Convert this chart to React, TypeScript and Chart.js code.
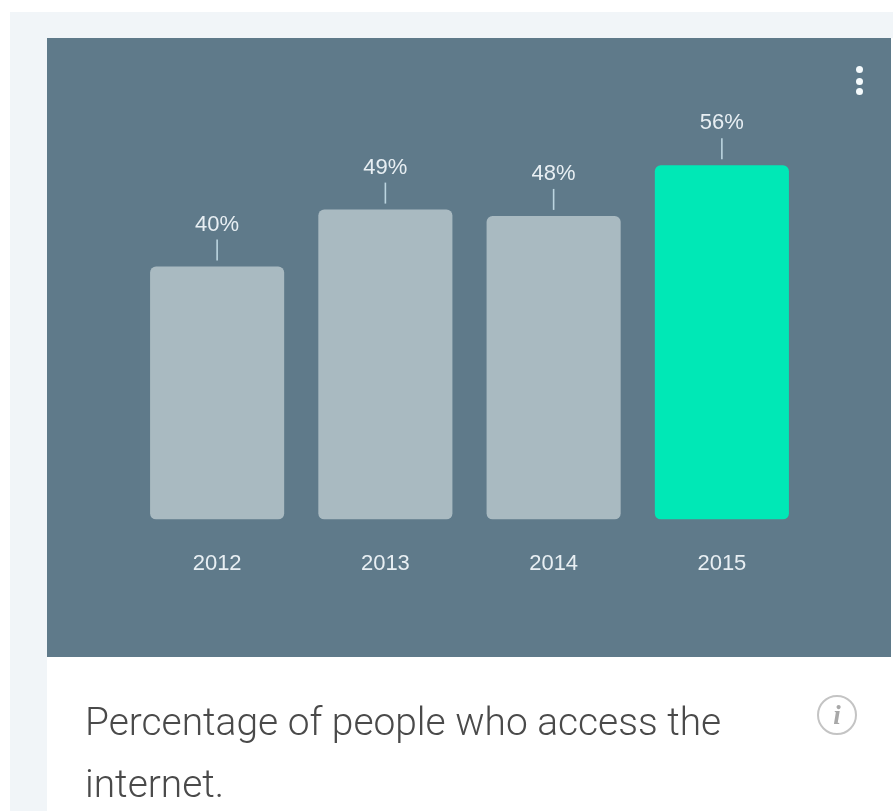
import { useEffect, useRef } from "react";
import { Chart, registerables, type Plugin } from "chart.js";

Chart.register(...registerables);

const years = ["2012", "2013", "2014", "2015"];
const shares = [40, 49, 48, 56];
const barColors = ["#a9bac1", "#a9bac1", "#a9bac1", "#00e8b6"];
const caption = "Percentage of people who access the internet.";

const W = 893;
const H = 811;
const PANEL = "#5f7a8a";

// Percentage above each bar, joined to it by a short stem.
const valueLabels: Plugin<"bar"> = {
  id: "valueLabels",
  afterDatasetsDraw(chart) {
    const { ctx } = chart;
    const bars = chart.getDatasetMeta(0).data;
    ctx.save();
    bars.forEach((bar, i) => {
      ctx.strokeStyle = "#bcd5e0";
      ctx.lineWidth = 1.6;
      ctx.beginPath();
      ctx.moveTo(bar.x, bar.y - 27);
      ctx.lineTo(bar.x, bar.y - 6);
      ctx.stroke();
      ctx.fillStyle = "#e8eff3";
      ctx.font = '22px "Liberation Sans", Arial, sans-serif';
      ctx.textAlign = "center";
      ctx.textBaseline = "middle";
      ctx.fillText(`${shares[i]}%`, bar.x, bar.y - 42);
    });
    ctx.restore();
  },
};

export default function App() {
  const canvasRef = useRef<HTMLCanvasElement>(null);

  useEffect(() => {
    if (!canvasRef.current) return;
    const chart = new Chart(canvasRef.current, {
      type: "bar",
      data: {
        labels: years,
        datasets: [
          {
            data: shares,
            backgroundColor: barColors,
            borderRadius: 6,
            borderSkipped: false,
            categoryPercentage: 1,
            barPercentage: 0.797,
          },
        ],
      },
      options: {
        responsive: false,
        animation: false,
        layout: { padding: { left: 133, right: 87, top: 140, bottom: 211 } },
        plugins: { legend: { display: false }, tooltip: { enabled: false } },
        scales: {
          x: {
            grid: { display: false },
            border: { display: false },
            ticks: {
              color: "#e8eff3",
              padding: 23,
              maxRotation: 0,
              font: { family: '"Liberation Sans", Arial, sans-serif', size: 22 },
            },
          },
          y: { display: false, min: 0, max: 60 },
        },
      },
      plugins: [valueLabels],
    });
    return () => chart.destroy();
  }, []);

  return (
    <div style={{ position: "fixed", inset: 0, width: W, height: H, overflow: "hidden", background: "#ffffff" }}>
      <div style={{ position: "absolute", left: 10, top: 12, width: W - 10, height: H - 12, background: "#f1f5f8" }} />
      <div style={{ position: "absolute", left: 47, top: 38, width: W - 47, height: H - 38, background: "#ffffff" }} />
      <div style={{ position: "absolute", left: 47, top: 38, width: 844, height: 619, background: PANEL }} />
      <canvas ref={canvasRef} width={W} height={H} style={{ position: "absolute", left: 0, top: 0, width: W, height: H }} />
      {/* Overflow menu */}
      {[69, 81, 91].map((y) => (
        <div key={y} style={{ position: "absolute", left: 855.5, top: y - 3.5, width: 7, height: 7, borderRadius: "50%", background: "#f4fafc" }} />
      ))}
      <div
        style={{
          position: "absolute",
          left: 85,
          top: 691,
          width: 670,
          font: "300 38.9px/62px Roboto, sans-serif",
          color: "#4a4a4a",
        }}
      >
        {caption}
      </div>
      {/* Info badge */}
      <div
        style={{
          position: "absolute",
          left: 817,
          top: 695,
          width: 36,
          height: 36,
          borderRadius: "50%",
          border: "2px solid #c4c4c4",
          color: "#a8a8a8",
          textAlign: "center",
          font: 'italic 700 27px/36px "Liberation Serif", serif',
        }}
      >
        i
      </div>
    </div>
  );
}
